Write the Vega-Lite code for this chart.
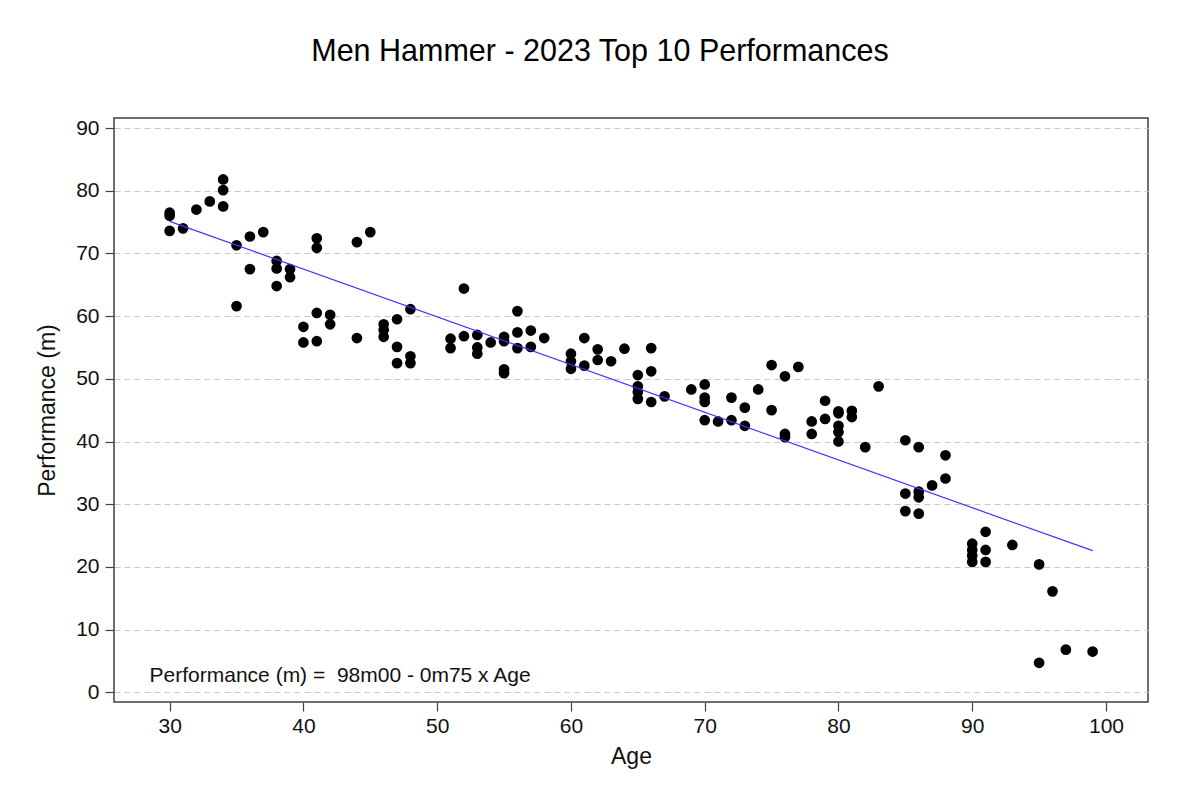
{
  "$schema": "https://vega.github.io/schema/vega-lite/v6.json",
  "autosize": {"type": "none"},
  "padding": {"left": 114, "top": 118, "right": 52, "bottom": 93},
  "width": 1034,
  "height": 584,
  "background": "white",
  "title": {
    "text": "Men Hammer - 2023 Top 10 Performances",
    "font": "Liberation Sans",
    "fontSize": 30.5,
    "fontWeight": "normal",
    "color": "#000000",
    "anchor": "middle",
    "frame": "group",
    "dx": -31,
    "offset": 50
  },
  "config": {
    "view": {"stroke": "#404040", "strokeWidth": 1.5},
    "font": "Liberation Sans"
  },
  "datasets": {
    "points": [
      {"age": 30, "perf": 76.5}, {"age": 30, "perf": 76.0}, {"age": 30, "perf": 73.6},
      {"age": 31, "perf": 74.0},
      {"age": 32, "perf": 77.0},
      {"age": 33, "perf": 78.3},
      {"age": 34, "perf": 81.8}, {"age": 34, "perf": 80.1}, {"age": 34, "perf": 77.5},
      {"age": 35, "perf": 71.3}, {"age": 35, "perf": 61.6},
      {"age": 36, "perf": 72.7}, {"age": 36, "perf": 67.5},
      {"age": 37, "perf": 73.4},
      {"age": 38, "perf": 68.8}, {"age": 38, "perf": 67.6}, {"age": 38, "perf": 64.8},
      {"age": 39, "perf": 67.5}, {"age": 39, "perf": 66.2},
      {"age": 40, "perf": 58.3}, {"age": 40, "perf": 55.8},
      {"age": 41, "perf": 72.4}, {"age": 41, "perf": 70.9}, {"age": 41, "perf": 60.5}, {"age": 41, "perf": 56.0},
      {"age": 42, "perf": 60.2}, {"age": 42, "perf": 58.7},
      {"age": 44, "perf": 71.8}, {"age": 44, "perf": 56.5},
      {"age": 45, "perf": 73.4},
      {"age": 46, "perf": 58.7}, {"age": 46, "perf": 57.8}, {"age": 46, "perf": 56.7},
      {"age": 47, "perf": 59.5}, {"age": 47, "perf": 55.1}, {"age": 47, "perf": 52.5},
      {"age": 48, "perf": 61.1}, {"age": 48, "perf": 53.6}, {"age": 48, "perf": 52.5},
      {"age": 51, "perf": 56.4}, {"age": 51, "perf": 54.9},
      {"age": 52, "perf": 64.4}, {"age": 52, "perf": 56.8},
      {"age": 53, "perf": 57.0}, {"age": 53, "perf": 55.0}, {"age": 53, "perf": 54.0},
      {"age": 54, "perf": 55.8},
      {"age": 55, "perf": 56.7}, {"age": 55, "perf": 56.0}, {"age": 55, "perf": 51.5}, {"age": 55, "perf": 50.9},
      {"age": 56, "perf": 60.8}, {"age": 56, "perf": 57.4}, {"age": 56, "perf": 54.9},
      {"age": 57, "perf": 57.7}, {"age": 57, "perf": 55.1},
      {"age": 58, "perf": 56.5},
      {"age": 60, "perf": 54.0}, {"age": 60, "perf": 52.8}, {"age": 60, "perf": 51.6},
      {"age": 61, "perf": 56.5}, {"age": 61, "perf": 52.1},
      {"age": 62, "perf": 54.7}, {"age": 62, "perf": 53.0},
      {"age": 63, "perf": 52.8},
      {"age": 64, "perf": 54.8},
      {"age": 65, "perf": 50.6}, {"age": 65, "perf": 48.8}, {"age": 65, "perf": 47.9}, {"age": 65, "perf": 46.8},
      {"age": 66, "perf": 54.9}, {"age": 66, "perf": 51.2}, {"age": 66, "perf": 46.3},
      {"age": 67, "perf": 47.2},
      {"age": 69, "perf": 48.3},
      {"age": 70, "perf": 49.1}, {"age": 70, "perf": 47.0}, {"age": 70, "perf": 46.3}, {"age": 70, "perf": 43.4},
      {"age": 71, "perf": 43.2},
      {"age": 72, "perf": 47.0}, {"age": 72, "perf": 43.4},
      {"age": 73, "perf": 45.4}, {"age": 73, "perf": 42.5},
      {"age": 74, "perf": 48.3},
      {"age": 75, "perf": 52.2}, {"age": 75, "perf": 45.0},
      {"age": 76, "perf": 50.4}, {"age": 76, "perf": 41.2}, {"age": 76, "perf": 40.7},
      {"age": 77, "perf": 51.9},
      {"age": 78, "perf": 43.2}, {"age": 78, "perf": 41.2},
      {"age": 79, "perf": 46.5}, {"age": 79, "perf": 43.6},
      {"age": 80, "perf": 44.8}, {"age": 80, "perf": 44.5}, {"age": 80, "perf": 42.5}, {"age": 80, "perf": 41.5}, {"age": 80, "perf": 40.0},
      {"age": 81, "perf": 44.9}, {"age": 81, "perf": 43.9},
      {"age": 82, "perf": 39.1},
      {"age": 83, "perf": 48.8},
      {"age": 85, "perf": 40.2}, {"age": 85, "perf": 31.7}, {"age": 85, "perf": 28.9},
      {"age": 86, "perf": 39.1}, {"age": 86, "perf": 32.0}, {"age": 86, "perf": 31.1}, {"age": 86, "perf": 28.5},
      {"age": 87, "perf": 33.0},
      {"age": 88, "perf": 37.8}, {"age": 88, "perf": 34.1},
      {"age": 90, "perf": 23.7}, {"age": 90, "perf": 22.7}, {"age": 90, "perf": 21.8}, {"age": 90, "perf": 20.8},
      {"age": 91, "perf": 25.6}, {"age": 91, "perf": 22.7}, {"age": 91, "perf": 20.8},
      {"age": 93, "perf": 23.5},
      {"age": 95, "perf": 20.4}, {"age": 95, "perf": 4.7},
      {"age": 96, "perf": 16.1},
      {"age": 97, "perf": 6.8},
      {"age": 99, "perf": 6.5}
    ],
    "note": [
      {"label": "Performance (m) = \u00a098m00 - 0m75 x Age"}
    ]
  },
  "layer": [
    {
      "data": {"name": "points"},
      "mark": {"type": "circle", "color": "#000000", "opacity": 1, "size": 115},
      "encoding": {
        "x": {
          "field": "age",
          "type": "quantitative",
          "scale": {"domain": [25.84, 103.14], "nice": false, "zero": false},
          "axis": {
            "title": "Age",
            "values": [30, 40, 50, 60, 70, 80, 90, 100],
            "grid": false,
            "domain": false,
            "tickSize": 9,
            "tickColor": "#404040",
            "tickWidth": 1.2,
            "labelFont": "Liberation Sans",
            "labelFontSize": 21,
            "labelColor": "#111111",
            "labelPadding": 4,
            "titleFont": "Liberation Sans",
            "titleFontSize": 23,
            "titleFontWeight": "normal",
            "titleColor": "#111111",
            "titlePadding": 9
          }
        },
        "y": {
          "field": "perf",
          "type": "quantitative",
          "scale": {"domain": [-1.55, 91.6], "nice": false, "zero": false},
          "axis": {
            "title": "Performance (m)",
            "values": [0, 5, 10, 15, 20, 25, 30, 35, 40, 45, 50, 55, 60, 65, 70, 75, 80, 85, 90],
            "labelExpr": "datum.value % 10 === 0 ? datum.label : ''",
            "grid": true,
            "gridColor": "#c8c8c8",
            "gridDash": [6, 4],
            "gridWidth": 1,
            "domain": false,
            "tickSize": {"condition": {"test": "datum.value % 10 === 0", "value": 9}, "value": 6},
            "tickColor": "#404040",
            "tickWidth": 1.2,
            "labelFont": "Liberation Sans",
            "labelFontSize": 21,
            "labelColor": "#111111",
            "labelPadding": 6,
            "titleFont": "Liberation Sans",
            "titleFontSize": 23,
            "titleFontWeight": "normal",
            "titleColor": "#111111",
            "titlePadding": 16
          }
        }
      }
    },
    {
      "data": {"name": "points"},
      "transform": [{"regression": "perf", "on": "age"}],
      "mark": {"type": "line", "color": "#3838ff", "strokeWidth": 1.2},
      "encoding": {
        "x": {"field": "age", "type": "quantitative"},
        "y": {"field": "perf", "type": "quantitative"}
      }
    },
    {
      "data": {"name": "note"},
      "mark": {"type": "text", "align": "left", "baseline": "alphabetic", "font": "Liberation Sans", "fontSize": 21, "color": "#111111"},
      "encoding": {
        "x": {"datum": 28.5, "type": "quantitative"},
        "y": {"datum": 1.6, "type": "quantitative"},
        "text": {"field": "label", "type": "nominal"}
      }
    }
  ]
}
